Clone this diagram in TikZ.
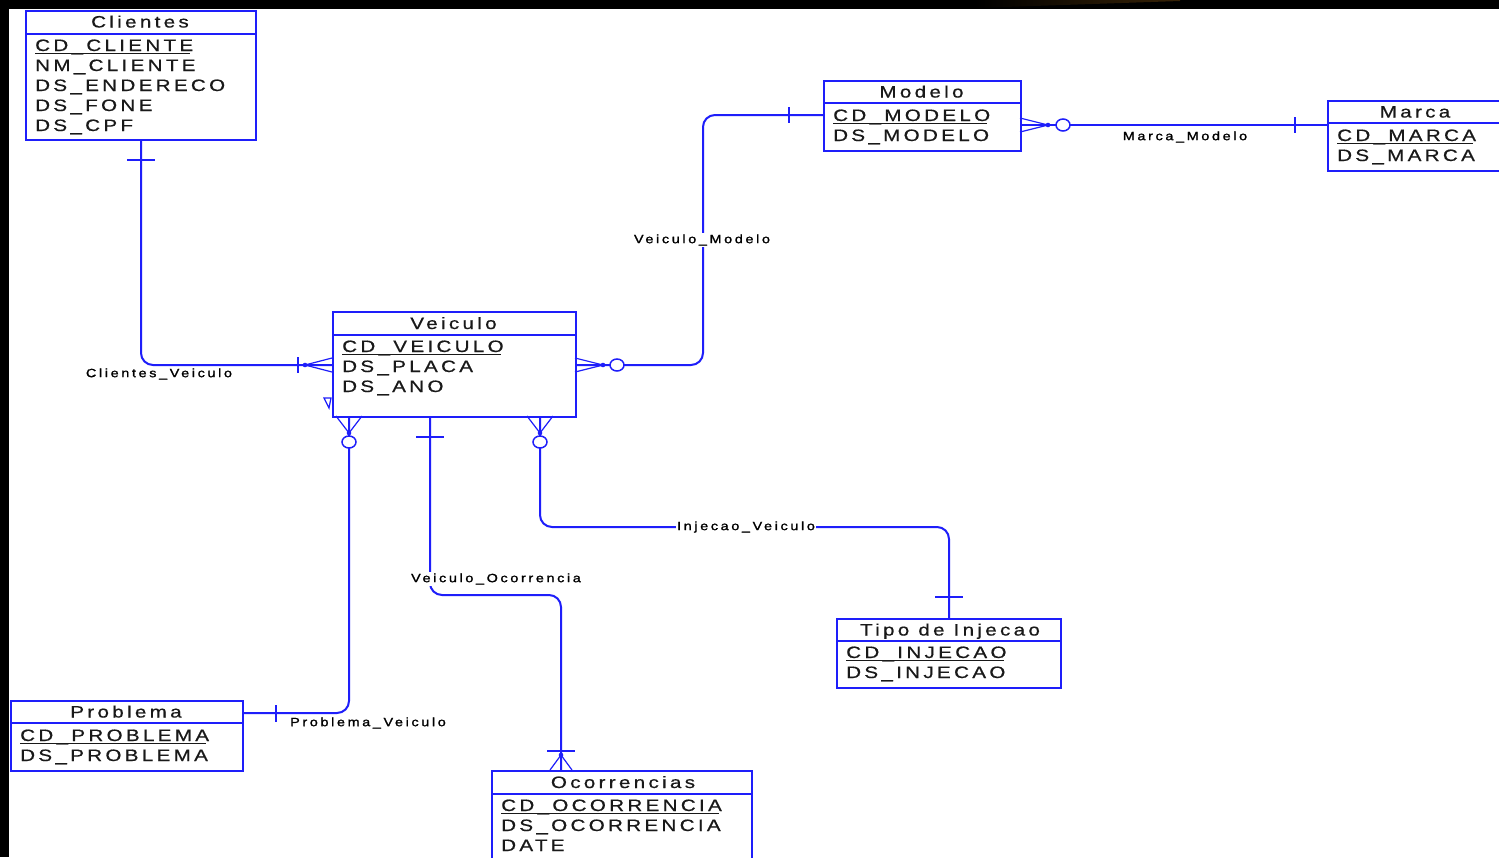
\documentclass[tikz,border=0pt]{standalone}
\usepackage{fontspec}
\setmainfont{Liberation Sans}
\newfontfamily\entfont[FakeStretch=1.25,FakeBold=0.6,LetterSpace=20]{Liberation Sans}
\newfontfamily\relfont[FakeStretch=1.2,FakeBold=1.4,LetterSpace=22]{Liberation Sans}
\usetikzlibrary{calc}
\definecolor{erblue}{RGB}{30,30,250}
\definecolor{ertext}{RGB}{25,25,25}
\definecolor{erbrown}{RGB}{55,34,6}
\begin{document}
\begin{tikzpicture}[x=1pt,y=-1pt,
  ebox/.style={draw=erblue, line width=2pt, fill=white, inner sep=0pt, anchor=north west},
  etitle/.style={font=\entfont\fontsize{16.5}{18}\selectfont, text=ertext, anchor=base, inner sep=0pt},
  eattr/.style={font=\entfont\fontsize{16.5}{18}\selectfont, text=ertext, anchor=base west, inner sep=0pt},
  pkline/.style={draw=ertext, line width=1.3pt},
  rel/.style={draw=erblue, line width=2pt},
  crow/.style={draw=erblue, line width=1.2pt},
  tick/.style={draw=erblue, line width=2pt},
  zcircle/.style={draw=erblue, line width=1.5pt, fill=white},
  rlabel/.style={font=\relfont\fontsize{12}{13}\selectfont, text=black, inner sep=1pt},
]
\useasboundingbox (0,0) rectangle (1499,857);
\fill[white] (0,0) rectangle (1499,857);

% ---------------- entities ----------------
% Clientes
\node[ebox, minimum width=230pt, minimum height=129pt] (cli) at (25,10) {};
\draw[rel] (cli.west |- 0,34) -- (cli.east |- 0,34);
\node[etitle] (cliT) at (140,27.5) {Clientes};
\node[eattr] (cli1) at (35,51) {CD\_CLIENTE};
\node[eattr] (cli2) at (35,71) {NM\_CLIENTE};
\node[eattr] (cli3) at (35,91) {DS\_ENDERECO};
\node[eattr] (cli4) at (35,111) {DS\_FONE};
\node[eattr] (cli5) at (35,131) {DS\_CPF};
\draw[pkline] ([yshift=-2.5pt]cli1.base west) -- ([yshift=-2.5pt,xshift=-3pt]cli1.base east);

% Modelo
\node[ebox, minimum width=197pt, minimum height=70pt] (mod) at (823,80) {};
\draw[rel] (mod.west |- 0,103) -- (mod.east |- 0,103);
\node[etitle] (modT) at (921.5,97.5) {Modelo};
\node[eattr] (mod1) at (833,121) {CD\_MODELO};
\node[eattr] (mod2) at (833,141) {DS\_MODELO};
\draw[pkline] ([yshift=-2.5pt]mod1.base west) -- ([yshift=-2.5pt,xshift=-3pt]mod1.base east);

% Marca
\node[ebox, minimum width=190pt, minimum height=70pt] (mar) at (1327,100) {};
\draw[rel] (mar.west |- 0,123) -- (mar.east |- 0,123);
\node[etitle] (marT) at (1415,117.5) {Marca};
\node[eattr] (mar1) at (1337,141) {CD\_MARCA};
\node[eattr] (mar2) at (1337,161) {DS\_MARCA};
\draw[pkline] ([yshift=-2.5pt]mar1.base west) -- ([yshift=-2.5pt,xshift=-3pt]mar1.base east);

% Veiculo
\node[ebox, minimum width=243pt, minimum height=105pt] (veh) at (332,311) {};
\draw[rel] (veh.west |- 0,335) -- (veh.east |- 0,335);
\node[etitle] (vehT) at (453.5,329) {Veiculo};
\node[eattr] (veh1) at (342,352) {CD\_VEICULO};
\node[eattr] (veh2) at (342,372) {DS\_PLACA};
\node[eattr] (veh3) at (342,392) {DS\_ANO};
\draw[pkline] ([yshift=-2.5pt]veh1.base west) -- ([yshift=-2.5pt,xshift=-3pt]veh1.base east);

% Tipo de Injecao
\node[ebox, minimum width=224pt, minimum height=69pt] (tip) at (836,618) {};
\draw[rel] (tip.west |- 0,641) -- (tip.east |- 0,641);
\node[etitle] (tipT) at (950,635.5) {Tipo de Injecao};
\node[eattr] (tip1) at (846,658) {CD\_INJECAO};
\node[eattr] (tip2) at (846,678) {DS\_INJECAO};
\draw[pkline] ([yshift=-2.5pt]tip1.base west) -- ([yshift=-2.5pt,xshift=-3pt]tip1.base east);

% Problema
\node[ebox, minimum width=232pt, minimum height=70pt] (pro) at (10,700) {};
\draw[rel] (pro.west |- 0,723) -- (pro.east |- 0,723);
\node[etitle] (proT) at (126,717.5) {Problema};
\node[eattr] (pro1) at (20,741) {CD\_PROBLEMA};
\node[eattr] (pro2) at (20,761) {DS\_PROBLEMA};
\draw[pkline] ([yshift=-2.5pt]pro1.base west) -- ([yshift=-2.5pt,xshift=-3pt]pro1.base east);

% Ocorrencias
\node[ebox, minimum width=260pt, minimum height=110pt] (oco) at (491,770) {};
\draw[rel] (oco.west |- 0,794) -- (oco.east |- 0,794);
\node[etitle] (ocoT) at (623,788) {Ocorrencias};
\node[eattr] (oco1) at (501,811) {CD\_OCORRENCIA};
\node[eattr] (oco2) at (501,831) {DS\_OCORRENCIA};
\node[eattr] (oco3) at (501,851) {DATE};
\draw[pkline] ([yshift=-2.5pt]oco1.base west) -- ([yshift=-2.5pt,xshift=-3pt]oco1.base east);

% ---------------- relationships ----------------
% Clientes_Veiculo
\draw[rel, rounded corners=12pt] (cli.south -| 141,0) |- (veh.west |- 0,365);
\draw[tick] (127,160) -- (155,160);
\draw[tick] (298,357) -- (298,373);
\draw[crow] (332,358) -- (305,365) -- (332,372);
\fill[erblue] (305,365) circle (2.3);
\draw[crow] (324,398) -- (331,398) -- (329,408) -- cycle;
\node[rlabel] (lcv) at (159,374) {Clientes\_Veiculo};

% Veiculo_Modelo
\draw[rel, rounded corners=12pt] (veh.east |- 0,365) -| (703,115) -- (mod.west |- 0,115);
\draw[crow] (575,358) -- (603,365) -- (575,372);
\fill[erblue] (603,365) circle (2.3);
\draw[zcircle] (617,365) ellipse (7 and 6);
\draw[tick] (789,107) -- (789,123);
\node[rlabel, fill=white] (lvm) at (702,240) {Veiculo\_Modelo};

% Marca_Modelo
\draw[rel] (mod.east |- 0,125) -- (mar.west |- 0,125);
\draw[crow] (1020,118) -- (1048,125) -- (1020,132);
\fill[erblue] (1048,125) circle (2.3);
\draw[zcircle] (1063,125) ellipse (7 and 6);
\draw[tick] (1295,117) -- (1295,133);
\node[rlabel] (lmm) at (1185,137) {Marca\_Modelo};

% Problema_Veiculo
\draw[rel, rounded corners=12pt] (veh.south -| 349,0) |- (pro.east |- 0,713);
\draw[crow] (336,416) -- (349,433) -- (362,416);
\fill[erblue] (349,433) circle (2.3);
\draw[zcircle] (349,442) ellipse (7 and 6);
\draw[tick] (276,705) -- (276,722);
\node[rlabel] (lpv) at (368,723) {Problema\_Veiculo};

% Veiculo_Ocorrencia
\draw[rel, rounded corners=12pt] (veh.south -| 430,0) |- (561,595) -- (oco.north -| 561,0);
\draw[tick] (416,437) -- (444,437);
\draw[tick] (547,751) -- (575,751);
\draw[crow] (550,770) -- (561,755) -- (572,770);
\fill[erblue] (561,755) circle (2.3);
\node[rlabel, fill=white] (lvo) at (496,579) {Veiculo\_Ocorrencia};

% Injecao_Veiculo
\draw[rel, rounded corners=12pt] (veh.south -| 540,0) |- (949,527) -- (tip.north -| 949,0);
\draw[crow] (527,416) -- (540,433) -- (553,416);
\fill[erblue] (540,433) circle (2.3);
\draw[zcircle] (540,442) ellipse (7 and 6);
\draw[tick] (935,597) -- (963,597);
\node[rlabel, fill=white] (liv) at (746,527) {Injecao\_Veiculo};

% ---------------- frame ----------------
\fill[black] (0,0) rectangle (1499,9);
\fill[black] (0,0) rectangle (9,857);
\shade[left color=black, right color=erbrown] (975,0) -- (1180,0) -- (1180,1) -- (975,8) -- cycle;
\end{tikzpicture}
\end{document}
